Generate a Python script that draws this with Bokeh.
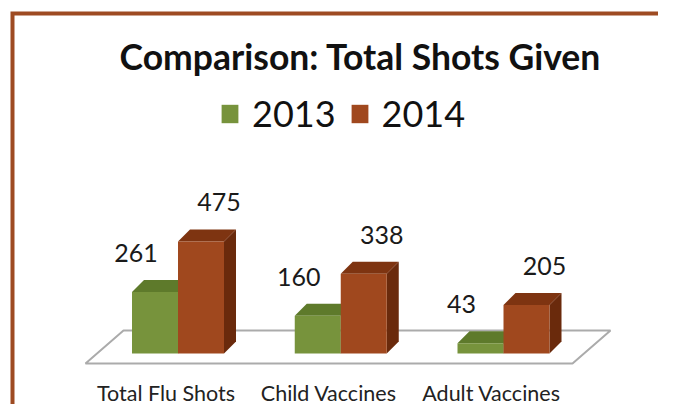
from bokeh.plotting import figure
from bokeh.models import Range1d, Label, Legend, LegendItem, ColumnDataSource
from bokeh.core.properties import value
from bokeh.embed import file_html
from bokeh.resources import INLINE

# ---- data ----
categories = ["Total Flu Shots", "Child Vaccines", "Adult Vaccines"]
years = ["2013", "2014"]
values_2013 = [261, 160, 43]
values_2014 = [475, 338, 205]
title_text = "Comparison: Total Shots Given"

# ---- layout constants (pixels) ----
W, H = 658, 404
PX_PER_GROUP = 162.75
PX_PER_UNIT = 0.236
GROUP0_PX = 177.5
BASE_PX = 353

x_start = -GROUP0_PX / PX_PER_GROUP
x_end = x_start + W / PX_PER_GROUP
y_end = BASE_PX / PX_PER_UNIT
y_start = y_end - H / PX_PER_UNIT


def dx(px):
    return px / PX_PER_GROUP


def dy(px):
    return px / PX_PER_UNIT


def X(px):
    return x_start + px / PX_PER_GROUP


def Y(px):
    return y_end - px / PX_PER_UNIT


FONT = "Lato"
GREEN = ("#77933C", "#5E7A2B", "#55702A")   # front, top, side
BROWN = ("#A0481E", "#7E3411", "#6A2A0C")

p = figure(width=W, height=H, x_range=Range1d(x_start, x_end), y_range=Range1d(y_start, y_end),
           output_backend="svg", toolbar_location=None, min_border=0,
           x_axis_location=None, y_axis_location=None)
p.grid.visible = False
p.outline_line_color = None
p.background_fill_color = "white"
p.border_fill_color = "white"

# outer border of the chart (top and left edges visible)
p.line([X(12), X(12), X(W + 30)], [Y(H + 30), Y(13), Y(13)],
       line_color="#9E4B22", line_width=4, line_join="miter")

n = len(categories)
groups = list(range(n))

# floor
floor_x = [groups[0] - dx(92.5), groups[0] - dx(54.5), groups[-1] + dx(107), groups[-1] + dx(69)]
floor_y = [-dy(10), dy(23), dy(23), -dy(10)]
p.patch(floor_x, floor_y, fill_color="white", line_color="#ABABAB", line_width=2)

bar_w = dx(46)
ddx = dx(12)
ddy = dy(12)

fronts = []
for vals, cols, sign, loff in ((values_2013, GREEN, -1, dx(-19)), (values_2014, BROWN, 1, dx(18))):
    centers = [g + sign * bar_w / 2 for g in groups]
    side_xs, side_ys, top_xs, top_ys = [], [], [], []
    for c, v in zip(centers, vals):
        l, r = c - bar_w / 2, c + bar_w / 2
        side_xs.append([r, r + ddx, r + ddx, r])
        side_ys.append([0, ddy, v + ddy, v])
        top_xs.append([l, r, r + ddx, l + ddx])
        top_ys.append([v, v, v + ddy, v + ddy])
    p.patches(side_xs, side_ys, fill_color=cols[2], line_color=None)
    p.patches(top_xs, top_ys, fill_color=cols[1], line_color=None)
    src = ColumnDataSource(dict(x=centers, top=vals,
                                lx=[c + loff for c in centers],
                                ly=[v + dy(39) for v in vals],
                                txt=[str(v) for v in vals]))
    fr = p.vbar(x="x", top="top", bottom=0, width=bar_w, source=src,
                fill_color=cols[0], line_color=None)
    fronts.append(fr)
    p.text(x="lx", y="ly", text="txt", source=src, text_align="center",
           text_baseline="alphabetic", text_font=value(FONT), text_font_size="25px",
           text_color="#1A1A1A")

# category labels
cat_src = ColumnDataSource(dict(x=[g - dx(12) for g in groups], y=[Y(392)] * n, txt=categories))
p.text(x="x", y="y", text="txt", source=cat_src, text_align="center", text_baseline="alphabetic",
       text_font=value(FONT), text_font_size="21.5px", text_color="#222222")

# title
p.add_layout(Label(x=X(360), y=Y(56), text=title_text, text_align="center",
                   text_baseline="alphabetic", text_font=FONT, text_font_style="bold",
                   text_font_size="35.5px", text_color="#111111"))

legend = Legend(items=[LegendItem(label=years[0], renderers=[fronts[0]]),
                       LegendItem(label=years[1], renderers=[fronts[1]])],
                orientation="horizontal", location=(219, 269),
                glyph_width=21, glyph_height=23, label_standoff=12, spacing=13,
                padding=0, margin=0, border_line_color=None, background_fill_alpha=0,
                label_text_font=FONT, label_text_font_size="36px", label_text_color="#111111")
p.add_layout(legend)

open("out.html", "w").write(file_html(p, INLINE))
